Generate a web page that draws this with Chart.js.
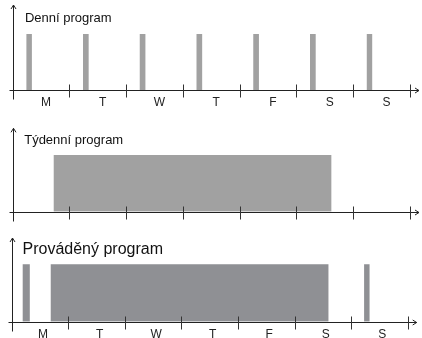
<!DOCTYPE html>
<html>
<head>
<meta charset="utf-8">
<script src="https://cdn.jsdelivr.net/npm/chart.js@4/dist/chart.umd.min.js"></script>
<style>
  html, body { margin: 0; padding: 0; background: #fff; overflow: hidden; }
  body { width: 422px; height: 338px; position: relative; }
  .panel { position: absolute; left: 0; width: 422px; }
</style>
</head>
<body>
<div class="panel" style="top:0;height:120px"><canvas id="daily"></canvas></div>
<div class="panel" style="top:112px;height:113px"><canvas id="weekly"></canvas></div>
<div class="panel" style="top:225px;height:126px"><canvas id="actual"></canvas></div>
<script>
// days of the week, axis runs from 0 (Monday 0:00) to 7 (end of Sunday)
const days = ['M', 'T', 'W', 'T', 'F', 'S', 'S'];
const dayTicks = [1, 2, 3, 4, 5, 6, 7];

// switched-on intervals, in days from Monday 0:00
const dailyProgram = [[0.24, 0.34], [1.24, 1.34], [2.24, 2.34], [3.24, 3.34], [4.24, 4.34], [5.24, 5.34], [6.24, 6.34]];
const weeklyProgram = [[0.72, 5.62]];
const executedProgram = [[0.19, 0.32], [0.69, 5.6], [6.23, 6.33]];

function toSteps(intervals) {
    return intervals.flatMap(([s, e]) => [
        { x: s, y: 0 }, { x: s, y: 1 }, { x: e, y: 1 }, { x: e, y: 0 }
    ]);
}

// axes with arrows, crossing tick marks and the panel caption
const panelAxes = {
    id: 'panelAxes',
    afterDraw(chart, args, opts) {
        const ctx = chart.ctx;
        const a = chart.chartArea;
        const xs = chart.scales.x;
        const ys = chart.scales.y;
        const x0 = Math.round(xs.getPixelForValue(0)) + 0.5;
        const base = Math.round(ys.getPixelForValue(0)) + 0.5;
        ctx.save();
        ctx.strokeStyle = '#222';
        ctx.lineWidth = 1;
        ctx.beginPath();
        // y axis
        ctx.moveTo(x0, a.top);
        ctx.lineTo(x0, base + 9);
        ctx.moveTo(x0 - 2.5, a.top + 4);
        ctx.lineTo(x0, a.top);
        ctx.lineTo(x0 + 2.5, a.top + 4);
        // x axis
        ctx.moveTo(x0 - 4, base);
        ctx.lineTo(a.right, base);
        ctx.moveTo(a.right - 4, base - 2.5);
        ctx.lineTo(a.right, base);
        ctx.lineTo(a.right - 4, base + 2.5);
        ctx.stroke();
        ctx.strokeStyle = '#333';
        ctx.beginPath();
        dayTicks.forEach(d => {
            const px = Math.round(xs.getPixelForValue(d)) + 0.5;
            ctx.moveTo(px, base - 6);
            ctx.lineTo(px, base + 7);
        });
        ctx.stroke();
        ctx.fillStyle = '#111';
        ctx.font = opts.font;
        ctx.textBaseline = 'middle';
        ctx.fillText(opts.text, x0 + opts.dx, a.top + opts.dy);
        ctx.restore();
    }
};

function makeChart(id, intervals, color, cfg) {
    new Chart(document.getElementById(id), {
        type: 'line',
        data: {
            datasets: [{
                data: toSteps(intervals),
                borderWidth: 0,
                pointRadius: 0,
                backgroundColor: color,
                fill: 'origin',
                tension: 0
            }]
        },
        options: {
            responsive: true,
            maintainAspectRatio: false,
            animation: false,
            layout: { padding: cfg.padding },
            plugins: {
                legend: { display: false },
                tooltip: { enabled: false },
                panelAxes: cfg.title
            },
            scales: {
                x: {
                    type: 'linear',
                    min: 0,
                    max: 7.16,
                    grid: { display: false, drawTicks: false },
                    border: { display: false },
                    afterBuildTicks: (scale) => {
                        scale.ticks = days.map((d, i) => ({ value: i + 0.5 }));
                    },
                    ticks: {
                        display: cfg.labels,
                        padding: cfg.labelPad,
                        labelOffset: cfg.labelOffset,
                        autoSkip: false,
                        maxRotation: 0,
                        color: '#222',
                        font: { family: 'Liberation Sans, Arial, sans-serif', size: 12 },
                        callback: (v, i) => days[i]
                    }
                },
                y: {
                    display: false,
                    min: 0,
                    max: cfg.yMax
                }
            }
        },
        plugins: [panelAxes]
    });
}

makeChart('daily', dailyProgram, '#a1a1a1', {
    padding: { top: 5, left: 12.6, right: 3, bottom: 3.8 },
    yMax: 1.52, labels: true, labelPad: 5.9, labelOffset: 5,
    title: { text: 'Denní program', font: '13px "Liberation Sans", Arial, sans-serif', dx: 11.4, dy: 13.3 }
});
makeChart('weekly', weeklyProgram, '#a1a1a1', {
    padding: { top: 16.3, left: 12.6, right: 3, bottom: 13.3 },
    yMax: 1.47, labels: false, labelPad: 0, labelOffset: 0,
    title: { text: 'Týdenní program', font: '13px "Liberation Sans", Arial, sans-serif', dx: 10.7, dy: 11.7 }
});
makeChart('actual', executedProgram, '#8f9094', {
    padding: { top: 13, left: 11.7, right: 5.3, bottom: 3.5 },
    yMax: 1.46, labels: true, labelPad: 5.7, labelOffset: 3,
    title: { text: 'Prováděný program', font: '16px "Liberation Sans", Arial, sans-serif', dx: 10, dy: 12 }
});
</script>
</body>
</html>
